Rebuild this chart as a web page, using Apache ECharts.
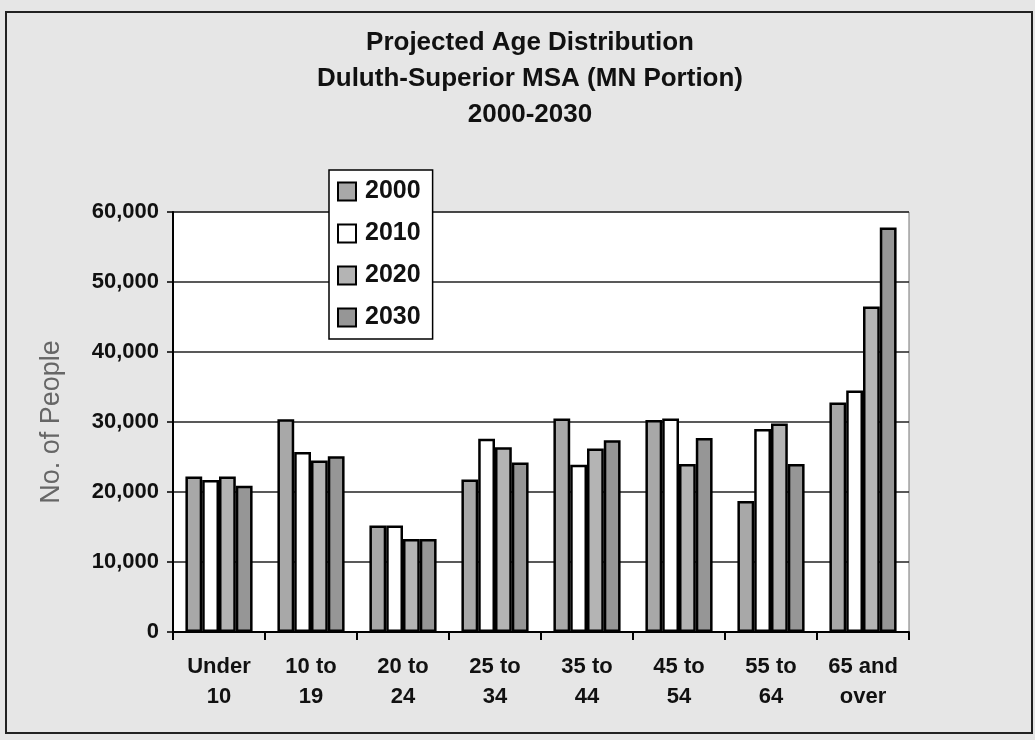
<!DOCTYPE html>
<html>
<head>
<meta charset="utf-8">
<script src="https://cdn.jsdelivr.net/npm/echarts@6/dist/echarts.min.js"></script>
<style>
  html, body { margin: 0; padding: 0; background: #e6e6e6; }
  #main { width: 1035px; height: 740px; }
</style>
</head>
<body>
<div id="main"></div>
<script>
// age groups on the x axis
var categories = ["Under\n10", "10 to\n19", "20 to\n24", "25 to\n34", "35 to\n44", "45 to\n54", "55 to\n64", "65 and\nover"];
var years = ["2000", "2010", "2020", "2030"];

// people per age group
var people2000 = [22200, 30400, 15200, 21800, 30500, 30300, 18700, 32800];
var people2010 = [21700, 25700, 15200, 27600, 23900, 30500, 29000, 34500];
var people2020 = [22200, 24500, 13300, 26400, 26200, 24000, 29800, 46500];
var people2030 = [20900, 25100, 13300, 24200, 27400, 27700, 24000, 57800];

var seriesData = [people2000, people2010, people2020, people2030];
var fills = ["#a8a8a8", "#ffffff", "#b4b4b4", "#969696"];

var font = "'Liberation Sans', Arial, sans-serif";

var myChart = echarts.init(document.getElementById("main"));

var series = years.map(function (y, i) {
  return {
    name: y,
    type: "bar",
    data: seriesData[i],
    barGap: "0%",
    barCategoryGap: "27%",
    itemStyle: { color: fills[i], borderColor: "#000", borderWidth: 2.5 }
  };
});

myChart.setOption({
  backgroundColor: "#e6e6e6",
  animation: false,
  title: {
    text: "Projected Age Distribution\nDuluth-Superior MSA (MN Portion)\n2000-2030",
    left: 525,
    textAlign: "center",
    top: 20,
    textStyle: { fontFamily: font, fontSize: 26, fontWeight: "bold", color: "#111", lineHeight: 36 }
  },
  legend: {
    data: years,
    orient: "vertical",
    left: 329,
    top: 170,
    backgroundColor: "#fff",
    borderColor: "#000",
    borderWidth: 1.5,
    padding: [9, 12, 9, 8],
    itemGap: 17,
    itemWidth: 18,
    itemHeight: 18,
    icon: "rect",
    textStyle: { fontFamily: font, fontSize: 25, fontWeight: "bold", color: "#111", padding: [0, 0, 0, 4] }
  },
  grid: {
    left: 173,
    right: 126,
    top: 212,
    bottom: 108,
    show: true,
    backgroundColor: "#fff",
    borderColor: "#777",
    borderWidth: 1
  },
  xAxis: {
    type: "category",
    data: categories,
    axisLine: { lineStyle: { color: "#000", width: 2 } },
    axisTick: { show: true, alignWithLabel: false, interval: 0, length: 8, lineStyle: { color: "#000", width: 2 } },
    axisLabel: {
      interval: 0,
      margin: 20,
      fontFamily: font,
      fontSize: 22,
      fontWeight: "bold",
      color: "#111",
      lineHeight: 30
    }
  },
  yAxis: {
    type: "value",
    min: 0,
    max: 60000,
    interval: 10000,
    name: "No. of People",
    nameLocation: "middle",
    nameGap: 108,
    nameTextStyle: { fontFamily: font, fontSize: 27, color: "#666" },
    axisLine: { show: true, lineStyle: { color: "#000", width: 2 } },
    axisTick: { show: true, length: 6, lineStyle: { color: "#000", width: 1.5 } },
    splitLine: { lineStyle: { color: "#222", width: 1.5 } },
    axisLabel: {
      margin: 14,
      fontFamily: font,
      fontSize: 22,
      fontWeight: "bold",
      color: "#111",
      formatter: function (v) { return v.toLocaleString("en-US"); }
    }
  },
  graphic: [
    {
      type: "rect",
      shape: { x: 6, y: 12, width: 1026, height: 721 },
      style: { fill: null, stroke: "#222", lineWidth: 2 },
      silent: true
    }
  ],
  series: series
});
</script>
</body>
</html>
